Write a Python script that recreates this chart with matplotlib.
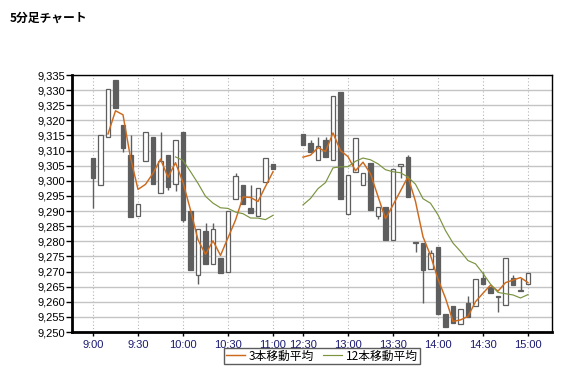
import numpy as np
import pandas as pd
import matplotlib
matplotlib.use('Agg')
import matplotlib.pyplot as plt
from matplotlib.ticker import FuncFormatter

plt.rcParams['font.family'] = ['Liberation Sans', 'Noto Sans CJK JP', 'DejaVu Sans']

# 5-minute bars, morning session (9:00-11:00) and afternoon session (12:30-15:00)
am_open = [9307.5, 9298.5, 9314.5, 9333.5, 9318.5, 9308.5, 9288.5, 9306.5, 9314.5, 9296, 9308.5, 9299, 9316,
           9290, 9269, 9283.5, 9272.5, 9274.5, 9270, 9294, 9298.5, 9291, 9288.5, 9299.5, 9305.5]
am_high = [9307.5, 9315, 9330.5, 9333.5, 9318.5, 9315, 9292.5, 9316, 9314.5, 9316, 9308.5, 9313.5, 9316,
           9290, 9284, 9286, 9286, 9274.5, 9290, 9302.5, 9298.5, 9298.5, 9297.5, 9307.5, 9305.5]
am_low = [9291, 9298.5, 9314.5, 9324, 9309.5, 9288, 9288.5, 9306.5, 9299, 9296, 9297, 9296.5, 9286.5,
          9270.5, 9266, 9272.5, 9272.5, 9269.5, 9270, 9294, 9292.5, 9289.5, 9288.5, 9299.5, 9304]
am_close = [9301, 9315, 9330.5, 9324, 9311, 9288, 9292.5, 9316, 9299, 9306.5, 9298, 9313.5, 9287,
            9270.5, 9284, 9272.5, 9284, 9269.5, 9290, 9301.5, 9292.5, 9289.5, 9297.5, 9307.5, 9304]

pm_open = [9315.5, 9312.5, 9307, 9313.5, 9307, 9329.5, 9289, 9303, 9298.5, 9306, 9288.5, 9291.5, 9280.5,
           9305, 9308, 9279.5, 9279.5, 9271, 9278, 9256, 9258.5, 9252.5, 9259.5, 9258.5, 9268, 9265,
           9262, 9259, 9268, 9263.5, 9266]
pm_high = [9315.5, 9313.5, 9314.5, 9314.5, 9328, 9329.5, 9302, 9314, 9302.5, 9306, 9291.5, 9291.5, 9304,
           9305.5, 9308.5, 9279.5, 9279.5, 9277, 9278, 9256, 9258.5, 9257.5, 9262, 9267.5, 9270, 9265,
           9262, 9274.5, 9269, 9268, 9269.5]
pm_low = [9312, 9309.5, 9307, 9308, 9307, 9294, 9289, 9303, 9298.5, 9290.5, 9287.5, 9280.5, 9280.5,
          9301, 9294.5, 9276.5, 9259.5, 9271, 9256, 9251.5, 9253, 9252.5, 9255, 9258.5, 9266, 9263,
          9256.5, 9259, 9265.5, 9263.5, 9266]
pm_close = [9312, 9309.5, 9311.5, 9308, 9328, 9294, 9302, 9314, 9302.5, 9290.5, 9291.5, 9280.5, 9304,
            9305.5, 9294.5, 9279.5, 9270.5, 9276, 9256, 9251.5, 9253, 9257.5, 9255, 9267.5, 9266, 9263,
            9261.5, 9274.5, 9265.5, 9264, 9269.5]

tick_labels = ['9:00', '9:30', '10:00', '10:30', '11:00', '12:30', '13:00', '13:30', '14:00', '14:30', '15:00']

# slot positions: lunch break leaves 3 empty slots between 11:00 and 12:30
gap = 3
am_x = np.arange(len(am_close))
pm_x = np.arange(len(pm_close)) + len(am_close) + gap
tick_pos = [0, 6, 12, 18, 24, 28, 34, 40, 46, 52, 58]

opens = np.array(am_open + pm_open)
highs = np.array(am_high + pm_high)
lows = np.array(am_low + pm_low)
closes = np.array(am_close + pm_close)
xs = np.concatenate([am_x, pm_x])

# moving averages over consecutive bars
ma3 = pd.Series(closes).rolling(3).mean().values
ma12 = pd.Series(closes).rolling(12).mean().values

fig = plt.figure(figsize=(5.64, 3.70), dpi=100)
ax = fig.add_axes([72 / 564, 1 - 332 / 370, 480 / 564, 257 / 370])

dark = '#5e5e5e'
w = 0.64
for x, o, h, l, c in zip(xs, opens, highs, lows, closes):
    ax.vlines(x, l, h, color=dark, lw=1, zorder=3)
    bottom = min(o, c)
    height = max(abs(c - o), 0.25)
    face = dark if c < o else 'white'
    ax.bar(x, height, bottom=bottom, width=w, color=face, edgecolor=dark, lw=0.9, zorder=4)

n_am = len(am_close)
orange = '#CC6A1E'
green = '#7A9440'
ax.plot(am_x, ma3[:n_am], color=orange, lw=1.05, zorder=5)
ax.plot(pm_x, ma3[n_am:], color=orange, lw=1.05, zorder=5, label='3本移動平均')
ax.plot(am_x, ma12[:n_am], color=green, lw=0.85, zorder=5)
ax.plot(pm_x, ma12[n_am:], color=green, lw=0.85, zorder=5, label='12本移動平均')

ax.set_xlim(-2.8, 61.2)
ax.set_ylim(9250, 9335)
ax.set_yticks(np.arange(9250, 9336, 5))
ax.yaxis.set_major_formatter(FuncFormatter(lambda v, p: f'{v:,.0f}'))
ax.set_xticks(tick_pos)
ax.set_xticklabels(tick_labels, color='#1a1a70')

ax.grid(axis='y', color='#c4c4c4', lw=1, zorder=0)
ax.grid(axis='x', color='#b4b4b4', lw=0.8, ls=(0, (1, 2)), zorder=0)
ax.set_axisbelow(True)

ax.tick_params(axis='y', length=4, width=1, pad=1, labelsize=8, direction='out')
ax.tick_params(axis='x', length=3, width=1, pad=3, labelsize=8, direction='out')
for side in ['left', 'bottom']:
    ax.spines[side].set_linewidth(2)
for side in ['top', 'right']:
    ax.spines[side].set_linewidth(1)

fig.text(10 / 564, 1 - 18 / 370, '5分足チャート', fontsize=8.5, fontweight='bold',
         family=['Noto Sans CJK JP', 'DejaVu Sans'], va='center', ha='left')

leg = fig.legend(loc='center', bbox_to_anchor=(322 / 564, 1 - 356 / 370), ncol=2,
                 frameon=True, fancybox=False, handlelength=1.6, handletextpad=0.3, columnspacing=0.8,
                 borderpad=0.15, prop={'family': ['Noto Sans CJK JP', 'DejaVu Sans'], 'size': 8.5})
leg.get_frame().set_edgecolor('#333333')
leg.get_frame().set_linewidth(1)

fig.savefig('out.png', dpi=100)
